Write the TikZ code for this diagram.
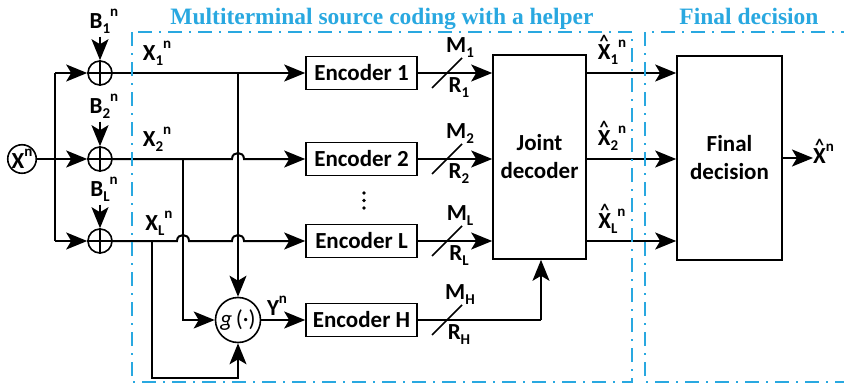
\documentclass[tikz,border=0pt]{standalone}
\usepackage{fontspec}
\setmainfont{Carlito}
\newfontfamily\titlefont{Liberation Serif}
\usetikzlibrary{arrows.meta}
\definecolor{hblue}{RGB}{41,168,224}
\newcommand{\smallf}{\fontsize{15}{15}\selectfont}
\newcommand{\sx}[3]{#1\raisebox{-0.45ex}{\smallf #2}\raisebox{1.1ex}{\smallf #3}}
\newcommand{\sbx}[2]{#1\raisebox{-0.45ex}{\smallf #2}}
\newcommand{\spx}[2]{#1\raisebox{1.1ex}{\smallf #2}}
\newcommand{\hX}{\ooalign{X\cr\hidewidth\raisebox{12pt}{\fontsize{18}{18}\selectfont\textasciicircum}\hidewidth\cr}}
\begin{document}
\begin{tikzpicture}[x=1pt,y=-1pt,
  ln/.style={line width=2pt},
  arr/.style={line width=2pt,-{Stealth[length=21pt,width=17pt,inset=5pt]}},
  blk/.style={draw,line width=1.6pt,minimum width=111pt,minimum height=33pt,inner sep=0pt,font=\bfseries\fontsize{23}{28}\selectfont},
  tall/.style={draw,line width=1.6pt,minimum height=204pt,inner sep=0pt,align=center,font=\bfseries\fontsize{23}{28}\selectfont},
  lab/.style={font=\bfseries\fontsize{23}{28}\selectfont,inner sep=0pt},
  sumc/.style={draw,circle,line width=1.6pt,minimum size=24pt,inner sep=0pt},
  region/.style={draw=hblue,line width=1.8pt,dash pattern=on 14pt off 7pt on 2pt off 7pt},
  ttl/.style={text=hblue,font=\titlefont\bfseries\fontsize{23.5}{28}\selectfont,anchor=base,inner sep=0pt}
]
\useasboundingbox (0,0) rectangle (844,388);

% source
\node[draw,circle,line width=1.6pt,minimum size=28pt,inner sep=0pt,lab] (x) at (22,159) {\spx{X}{n}};
\coordinate (t1) at (55,73);
\coordinate (t2) at (55,159);
\coordinate (tL) at (55,241);

% adders
\node[sumc] (a1) at (100,73) {};
\node[sumc] (a2) at (100,159) {};
\node[sumc] (aL) at (100,241) {};
\foreach \a in {a1,a2,aL}{
  \draw[line width=1.4pt] (\a.north) -- (\a.south);
  \draw[line width=1.4pt] (\a.west) -- (\a.east);
}

% noise labels
\node[lab] (b1) at (104,21) {\sx{B}{1}{n}};
\node[lab] (b2) at (104,106) {\sx{B}{2}{n}};
\node[lab] (bL) at (104,189) {\sx{B}{L}{n}};
\draw[arr] (b1.south -| a1.north) ++(0,3) -- (a1.north);
\draw[arr] (b2.south -| a2.north) ++(0,3) -- (a2.north);
\draw[arr] (bL.south -| aL.north) ++(0,3) -- (aL.north);

% trunk
\draw[ln] (x.east) -- (t2);
\draw[ln] (t1) -- (tL);
\draw[arr] (t1) -- (a1.west);
\draw[arr] (t2) -- (a2.west);
\draw[arr] (tL) -- (aL.west);

% encoders
\node[blk] (e1) at (361.5,73) {Encoder 1};
\node[blk] (e2) at (361.5,159) {Encoder 2};
\node[blk] (eL) at (361.5,241) {Encoder L};
\node[blk] (eH) at (361.5,320) {Encoder H};
\foreach \yy in {193,200.5,208} \fill (364,\yy) circle (1.9);

% helper function
\node[draw,circle,line width=1.6pt,minimum size=45pt,inner sep=0pt,font=\fontsize{23}{28}\selectfont] (g) at (238,320) {\textit{g}\,(\textperiodcentered)};

% signal labels
\node[lab] at (157,53) {\sx{X}{1}{n}};
\node[lab] at (157,139) {\sx{X}{2}{n}};
\node[lab] at (159,223) {\sx{X}{L}{n}};
\node[lab] at (277,306) {\spx{Y}{n}};

% rows
\draw[arr] (a1.east) -- (e1.west);
\draw[arr] (a2.east) -- (232,159) .. controls (232,151) and (244,151) .. (244,159) -- (e2.west);
\draw[arr] (aL.east) -- (177,241) .. controls (177,233) and (189,233) .. (189,241)
  -- (232,241) .. controls (232,233) and (244,233) .. (244,241) -- (eL.west);

% branches to g
\coordinate (j1) at (238,73);
\coordinate (j2) at (183,159);
\coordinate (jL) at (152,241);
\draw[arr] (j1) -- (g.north);
\draw[arr] (j2) -- (j2 |- g.west) -- (g.west);
\draw[arr] (jL) -- (152,378) -- (238,378) -- (g.south);
\draw[arr] (g.east) -- (eH.west);

% joint decoder
\node[tall,minimum width=93pt] (jd) at (539.5,157) {Joint\\decoder};
\node[tall,minimum width=105pt] (fd) at (729.5,158) {Final\\decision};

% encoder outputs
\draw[arr] (e1.east) -- (e1.east -| jd.west);
\draw[arr] (e2.east) -- (e2.east -| jd.west);
\draw[arr] (eL.east) -- (eL.east -| jd.west);
\coordinate (hj) at (541,320);
\draw[ln] (eH.east) -- (hj);
\draw[arr] (hj) -- (hj |- jd.south);
\foreach \yy in {73,159,241,320}
  \draw[line width=1.6pt] (432,\yy+15) -- (462,\yy-15);
\node[lab] at (460,48) {\sbx{M}{1}};
\node[lab] at (459,88) {\sbx{R}{1}};
\node[lab] at (460,134) {\sbx{M}{2}};
\node[lab] at (459,174) {\sbx{R}{2}};
\node[lab] at (460,216) {\sbx{M}{L}};
\node[lab] at (459,256) {\sbx{R}{L}};
\node[lab] at (460,295) {\sbx{M}{H}};
\node[lab] at (459,335) {\sbx{R}{H}};

% decoder outputs
\draw[arr] (jd.east |- e1) -- (fd.west |- e1);
\draw[arr] (jd.east |- e2) -- (fd.west |- e2);
\draw[arr] (jd.east |- eL) -- (fd.west |- eL);
\node[lab] at (612,52) {\sx{\hX}{1}{n}};
\node[lab] at (612,138) {\sx{\hX}{2}{n}};
\node[lab] at (612,221) {\sx{\hX}{L}{n}};
\node[lab,anchor=west] (xo) at (813,154) {\spx{\hX}{n}};
\draw[arr] (fd.east) -- (fd.east -| xo.west);

% regions
\draw[region] (132,32) rectangle (632,382);
\draw[region] (645,32) rectangle (880,382);
\node[ttl] at (382,24) {Multiterminal source coding with a helper};
\node[ttl] at (749,24) {Final decision};
\end{tikzpicture}
\end{document}
